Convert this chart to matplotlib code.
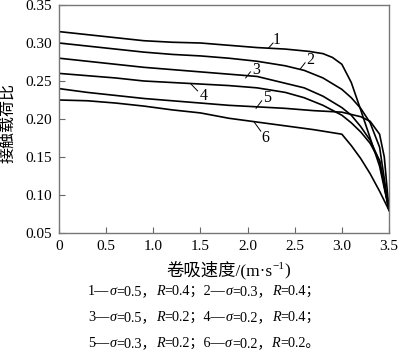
import matplotlib
matplotlib.use("Agg")
import matplotlib.pyplot as plt

# curves 1..6
x1 = [0, 0.3, 0.6, 0.9, 1.2, 1.5, 1.8, 2.1, 2.4, 2.65, 2.8, 2.9, 3.0, 3.1, 3.2, 3.3, 3.4, 3.5]
y1 = [0.315, 0.311, 0.307, 0.303, 0.301, 0.300, 0.297, 0.294, 0.292, 0.289, 0.286, 0.281,
      0.272, 0.248, 0.212, 0.175, 0.138, 0.080]
x2 = [0, 0.3, 0.6, 0.9, 1.2, 1.5, 1.8, 2.1, 2.4, 2.6, 2.8, 3.0, 3.1, 3.2, 3.3, 3.4, 3.5]
y2 = [0.300, 0.296, 0.292, 0.288, 0.285, 0.283, 0.280, 0.276, 0.270, 0.264, 0.254, 0.239,
      0.228, 0.214, 0.195, 0.163, 0.080]
y3 = [0.280, 0.276, 0.272, 0.268, 0.265, 0.262, 0.259, 0.256, 0.247, 0.241, 0.230, 0.215,
      0.205, 0.190, 0.172, 0.145, 0.080]
y4 = [0.260, 0.257, 0.254, 0.250, 0.248, 0.246, 0.244, 0.241, 0.235, 0.228, 0.218, 0.205,
      0.195, 0.183, 0.168, 0.145, 0.080]
x5 = [0, 0.3, 0.6, 0.9, 1.2, 1.5, 1.8, 2.1, 2.4, 2.7, 3.0, 3.2, 3.3, 3.4, 3.45, 3.5]
y5 = [0.240, 0.235, 0.231, 0.227, 0.224, 0.221, 0.218, 0.216, 0.214, 0.211, 0.209, 0.203,
      0.197, 0.180, 0.150, 0.080]
x6 = [0, 0.3, 0.6, 0.9, 1.2, 1.5, 1.8, 2.1, 2.4, 2.7, 2.9, 3.0, 3.1, 3.2, 3.3, 3.4, 3.5]
y6 = [0.225, 0.224, 0.221, 0.217, 0.212, 0.208, 0.201, 0.196, 0.191, 0.186, 0.182, 0.180,
      0.165, 0.148, 0.128, 0.105, 0.080]

curves = [(x1, y1), (x2, y2), (x2, y3), (x2, y4), (x5, y5), (x6, y6)]
labels = ["1", "2", "3", "4", "5", "6"]
# leader lines (on curve -> outer end) and label positions
lead_from = [(2.22, 0.293), (2.56, 0.266), (1.98, 0.254), (1.40, 0.246), (2.09, 0.214), (2.07, 0.196)]
lead_end = [(2.27, 0.300), (2.61, 0.274), (2.03, 0.262), (1.47, 0.237), (2.15, 0.224), (2.14, 0.184)]
label_pos = [(2.31, 0.304), (2.66, 0.277), (2.09, 0.265), (1.53, 0.230), (2.21, 0.227), (2.19, 0.175)]

xticks = [0, 0.5, 1.0, 1.5, 2.0, 2.5, 3.0, 3.5]
xticklabels = ["0", "0.5", "1.0", "1.5", "2.0", "2.5", "3.0", "3.5"]
yticks = [0.05, 0.10, 0.15, 0.20, 0.25, 0.30, 0.35]
yticklabels = ["0.05", "0.10", "0.15", "0.20", "0.25", "0.30", "0.35"]

ylabel = "接触载荷比"
# x label pieces: (text, italic, size scale, raise in px)
xlabel_pieces = [("卷吸速度/(m·s", False, 1.0, 0), ("−1", False, 0.65, 6), (")", False, 1.0, 0)]
# legend rows, *...* marks italic parts
notes = ["1—*σ*=0.5，*R*=0.4；2—*σ*=0.3，*R*=0.4；",
         "3—*σ*=0.5，*R*=0.2；4—*σ*=0.2，*R*=0.4；",
         "5—*σ*=0.3，*R*=0.2；6—*σ*=0.2，*R*=0.2。"]

SERIF = ["Liberation Serif", "Noto Sans CJK SC"]
W, H = 400, 351

fig = plt.figure(figsize=(4.0, 3.51), dpi=100)
ax = fig.add_axes([59 / W, 1 - 233 / H, 330 / W, 228 / H])

for (xs, ys) in curves:
    ax.plot(xs, ys, color="black", lw=1.2)

for lab, p0, p1, pt in zip(labels, lead_from, lead_end, label_pos):
    ax.plot([p0[0], p1[0]], [p0[1], p1[1]], color="black", lw=0.7)
    ax.text(pt[0], pt[1], lab, ha="center", va="center", fontsize=11.5, family=SERIF)

ax.set_xlim(0, 3.5)
ax.set_ylim(0.05, 0.35)
ax.set_xticks(xticks)
ax.set_xticklabels(xticklabels, family=SERIF, fontsize=11)
ax.set_yticks(yticks)
ax.set_yticklabels(yticklabels, family=SERIF, fontsize=11)
ax.tick_params(direction="in", length=4, width=0.8, color="#666666", pad=5)
for s in ax.spines.values():
    s.set_color("#777777")
    s.set_linewidth(1.0)

fig.text(8 / W, 1 - 123 / H, ylabel, rotation=90, ha="center", va="center",
         fontsize=11.5, family=SERIF)

renderer = fig.canvas.get_renderer()


def put_row(x_px, y_px, pieces, size):
    # draw text pieces one after another on a common baseline
    x = x_px
    for text, italic, scale, rise in pieces:
        t = fig.text(x / W, 1 - (y_px - rise) / H, text, ha="left", va="baseline",
                     fontsize=size * scale, family=SERIF,
                     style="italic" if italic else "normal")
        x += t.get_window_extent(renderer).width


put_row(166, 275, xlabel_pieces, 12.5)

for i, row in enumerate(notes):
    parts = row.split("*")
    pieces = [(p, k % 2 == 1, 1.0, 0) for k, p in enumerate(parts) if p]
    put_row(88, 295 + i * 26, pieces, 10.2)

fig.savefig("out.png", dpi=100)
